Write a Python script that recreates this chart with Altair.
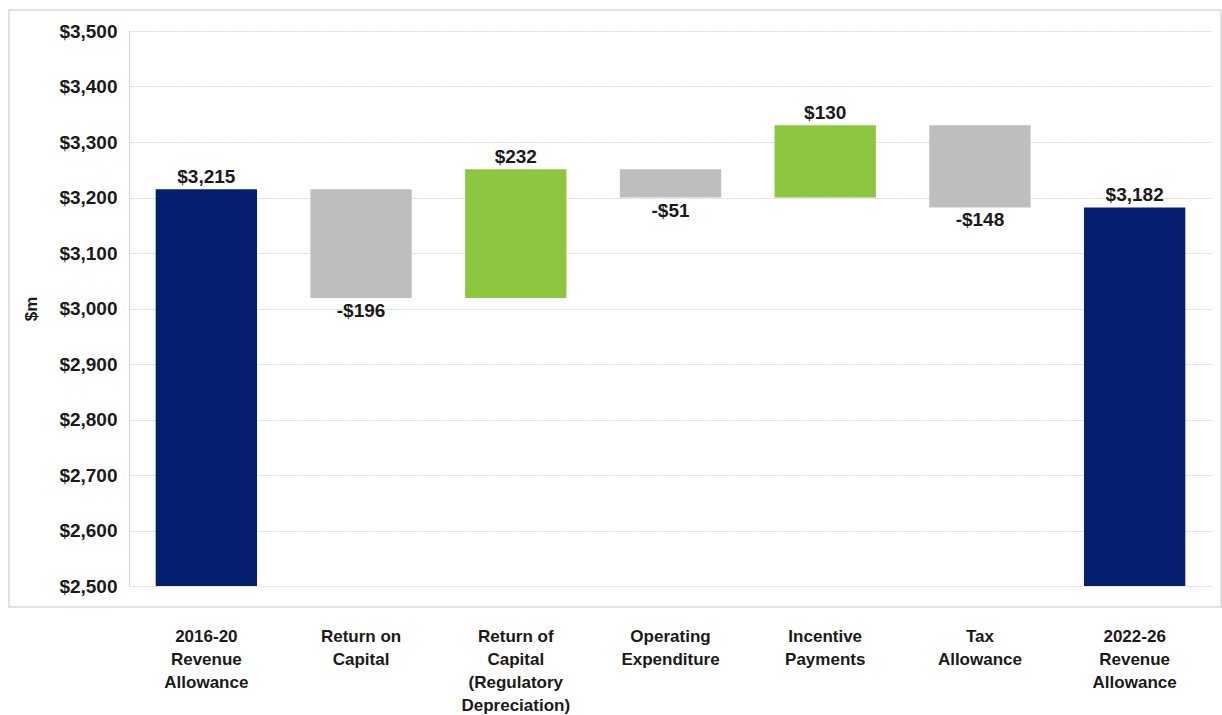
import altair as alt
import pandas as pd

categories = [
    "2016-20|Revenue|Allowance",
    "Return on|Capital",
    "Return of|Capital|(Regulatory|Depreciation)",
    "Operating|Expenditure",
    "Incentive|Payments",
    "Tax|Allowance",
    "2022-26|Revenue|Allowance",
]
kinds = ["total", "delta", "delta", "delta", "delta", "delta", "total"]
values = [3215, -196, 232, -51, 130, -148, 3182]

rows = []
running = 0
for i, (c, k, v) in enumerate(zip(categories, kinds, values)):
    if k == "total":
        start, end = 2500, v
        running = v
        color = "total"
        label = "${:,}".format(v)
    else:
        start, end = running, running + v
        running = end
        color = "up" if v > 0 else "down"
        label = ("-$" if v < 0 else "$") + "{:,}".format(abs(v))
    rows.append({
        "cat": c, "order": i, "start": start, "end": end,
        "top": max(start, end), "bottom": min(start, end),
        "color": color, "label": label, "neg": v < 0,
    })
df = pd.DataFrame(rows)

FONT = "Liberation Sans"

x_enc = alt.X(
    "cat:N", sort=categories, title=None,
    scale=alt.Scale(paddingInner=0.345, paddingOuter=0.1725),
    axis=alt.Axis(
        labelExpr="split(datum.label, '|')", labelAngle=0,
        labelFont=FONT, labelFontSize=17, labelFontWeight="bold",
        labelColor="#1a1a1a", labelLineHeight=23, labelPadding=42,
        domain=False, ticks=False, grid=False, labelBaseline="top",
    ),
)
y_scale = alt.Scale(domain=[2500, 3500], nice=False, zero=False)

base = alt.Chart(df)

bars = base.mark_bar(stroke=None).encode(
    x=x_enc,
    y=alt.Y(
        "start:Q", scale=y_scale, title="$m",
        axis=alt.Axis(
            values=list(range(2500, 3501, 100)),
            format="$,d", labelFont=FONT, labelFontSize=19,
            labelFontWeight="bold", labelColor="#1a1a1a", labelPadding=12,
            ticks=False, domainColor="#d4d4d4", gridColor="#d9d9d9",
            gridDash=[2, 1], titleFont=FONT, titleFontSize=17,
            titleFontWeight="bold", titleColor="#1a1a1a", titlePadding=18,
        ),
    ),
    y2="end:Q",
    color=alt.Color(
        "color:N",
        scale=alt.Scale(domain=["total", "up", "down"],
                        range=["#041F70", "#8DC63F", "#BDBEC0"]),
        legend=None,
    ),
)

labels_up = base.transform_filter("!datum.neg").mark_text(
    baseline="bottom", dy=-2, font=FONT, fontSize=19, fontWeight="bold",
    color="#1a1a1a",
).encode(x=alt.X("cat:N", sort=categories), y=alt.Y("top:Q", scale=y_scale),
         text="label:N")

labels_down = base.transform_filter("datum.neg").mark_text(
    baseline="top", dy=4, font=FONT, fontSize=19, fontWeight="bold",
    color="#1a1a1a",
).encode(x=alt.X("cat:N", sort=categories), y=alt.Y("bottom:Q", scale=y_scale),
         text="label:N")

frame = alt.Chart(pd.DataFrame({"a": [0]})).mark_rect(
    fill="transparent", stroke="#d9d9d9", strokeWidth=1.5
).encode(x=alt.value(-120), x2=alt.value(1092), y=alt.value(-21), y2=alt.value(576))

chart = alt.layer(frame, bars, labels_up, labels_down).properties(
    width=1083, height=555,
    autosize=alt.AutoSizeParams(type="none"),
    padding={"left": 129, "top": 31, "right": 10, "bottom": 129},
    background="white",
).configure_view(stroke=None)

chart.save("out.html", embed_options={"renderer": "svg", "actions": False})
